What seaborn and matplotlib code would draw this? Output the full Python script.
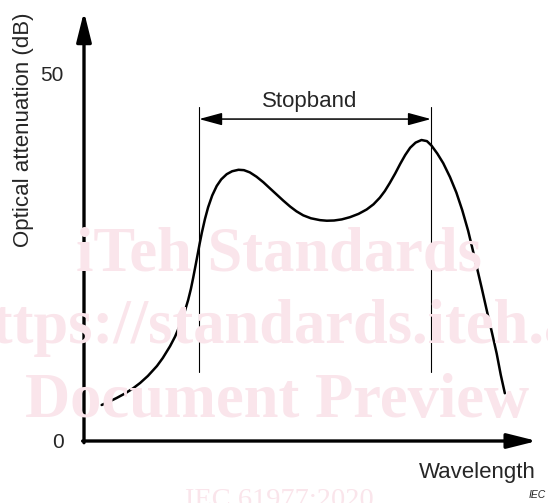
import matplotlib
matplotlib.use("Agg")
import matplotlib.pyplot as plt
import seaborn as sns
import pandas as pd

# ---- data (arbitrary wavelength units 0-100, dB) ----
wavelength = [3.9, 5.7, 7.2, 9.0, 10.8, 12.4, 14.1, 16.1, 17.4, 19.0, 20.1, 21.2,
              22.2, 23.0, 23.6, 24.1, 24.6, 25.0, 25.5, 26.0, 26.7, 27.4, 28.3, 29.3,
              30.3, 31.5, 32.7, 34.1, 35.3, 36.6, 38.1, 39.6, 41.0, 42.5, 44.0, 45.5,
              46.9, 48.4, 50.1, 52.1, 53.6, 55.2, 56.9, 58.7, 60.6, 62.4, 63.9, 65.3,
              66.4, 67.5, 68.7, 69.8, 70.9, 72.0, 73.2, 74.5, 75.7, 76.7, 78.0, 79.3,
              80.8, 82.2, 83.5, 84.8, 85.7, 86.7, 87.8, 88.9, 90.0, 91.1, 92.0, 92.9]
attenuation = [4.9, 5.4, 5.85, 6.45, 7.15, 7.9, 8.85, 10.2, 11.3, 12.9, 14.2, 15.8,
               17.55, 19.2, 20.7, 22.2, 23.8, 25.1, 26.75, 28.3, 30.2, 31.8, 33.4, 34.7,
               35.6, 36.3, 36.7, 36.9, 36.85, 36.55, 35.95, 35.2, 34.4, 33.55, 32.7, 31.9,
               31.25, 30.7, 30.3, 30.05, 29.97, 30.0, 30.15, 30.45, 30.9, 31.5, 32.2, 33.1,
               34.0, 35.1, 36.4, 37.7, 38.9, 39.9, 40.6, 40.95, 40.8, 40.2, 39.1, 37.8,
               35.9, 33.8, 31.4, 28.6, 26.3, 23.7, 20.8, 17.8, 14.9, 11.9, 9.0, 6.5]
stopband_edges = [25.4, 76.6]
stopband_line_range = [9.4, 45.5]
stopband_arrow_level = 43.8
ytick_values = [0, 50]
ytick_labels = ["0", "50"]
y_label = "Optical attenuation (dB)"
x_label = "Wavelength"
stopband_label = "Stopband"
watermark_lines = ["iTeh Standards", "https://standards.iteh.ai", "Document Preview"]
watermark_footer = "IEC 61977:2020"
source_mark = "IEC"

df = pd.DataFrame({"wavelength": wavelength, "attenuation": attenuation})

sns.set_style("white")
plt.rcParams["font.family"] = ["Liberation Sans", "DejaVu Sans"]

fig = plt.figure(figsize=(5.48, 5.03), dpi=100)
ax = fig.add_axes([84 / 548, 62 / 503, 453 / 548, 429.3 / 503])
ax.set_xlim(0, 100)
ax.set_ylim(0, 429.3 / 7.35)

# watermark (behind everything)
wm_color = "#fae5eb"
wm_pos = [(0.5091, 0.4632), (0.5018, 0.3181), (0.5055, 0.1710)]
for txt, (xx, yy) in zip(watermark_lines, wm_pos):
    fig.text(xx, yy, txt, ha="center", va="baseline", fontsize=45, fontweight="bold",
             family=["Liberation Serif", "DejaVu Serif"], color=wm_color, zorder=0)
fig.text(0.5091, -0.008, watermark_footer, ha="center", va="baseline", fontsize=20.5,
         family=["Liberation Serif", "DejaVu Serif"], color=wm_color, zorder=0)

ax.patch.set_alpha(0)

# curve
sns.lineplot(data=df, x="wavelength", y="attenuation", ax=ax, color="black",
             linewidth=1.8, sort=False, estimator=None, zorder=3)
ax.lines[-1].set_solid_joinstyle("round")

# stopband vertical lines
for xe in stopband_edges:
    ax.plot([xe, xe], stopband_line_range, color="black", linewidth=0.8, zorder=2)

# stopband double arrow
ax.annotate("", xy=(stopband_edges[1], stopband_arrow_level),
            xytext=(stopband_edges[0], stopband_arrow_level),
            arrowprops=dict(arrowstyle="<|-|>,head_length=1.4,head_width=0.38",
                            mutation_scale=10, color="black", lw=1.1,
                            shrinkA=0, shrinkB=0))
ax.text(sum(stopband_edges) / 2 - 1.2, 45.4, stopband_label, ha="center", va="baseline",
        fontsize=16)

# axes with arrows
for sp in ax.spines.values():
    sp.set_visible(False)
arrow_kw = dict(arrowstyle="-|>,head_length=1.8,head_width=0.45", mutation_scale=10,
                color="black", lw=2.4, shrinkA=0, shrinkB=0)
ax.annotate("", xy=(0, 1), xytext=(0, -0.004), xycoords="axes fraction",
            textcoords="axes fraction", arrowprops=arrow_kw, annotation_clip=False)
ax.annotate("", xy=(1, 0), xytext=(-0.003, 0), xycoords="axes fraction",
            textcoords="axes fraction", arrowprops=arrow_kw, annotation_clip=False)

ax.set_xticks([])
ax.set_yticks(ytick_values)
ax.set_yticklabels(ytick_labels, fontsize=15)
ax.tick_params(axis="y", length=0, pad=14.5)

ax.set_ylabel(y_label, fontsize=16)
ax.yaxis.set_label_coords(-0.1104, 0.7244)
ax.set_xlabel(x_label, fontsize=16)
ax.xaxis.set_label_coords(0.8687, -0.0489)

fig.text(546 / 548, 0.0099, source_mark, ha="right", va="baseline", fontsize=7.5,
         style="italic")

fig.savefig("out.png", dpi=100)
